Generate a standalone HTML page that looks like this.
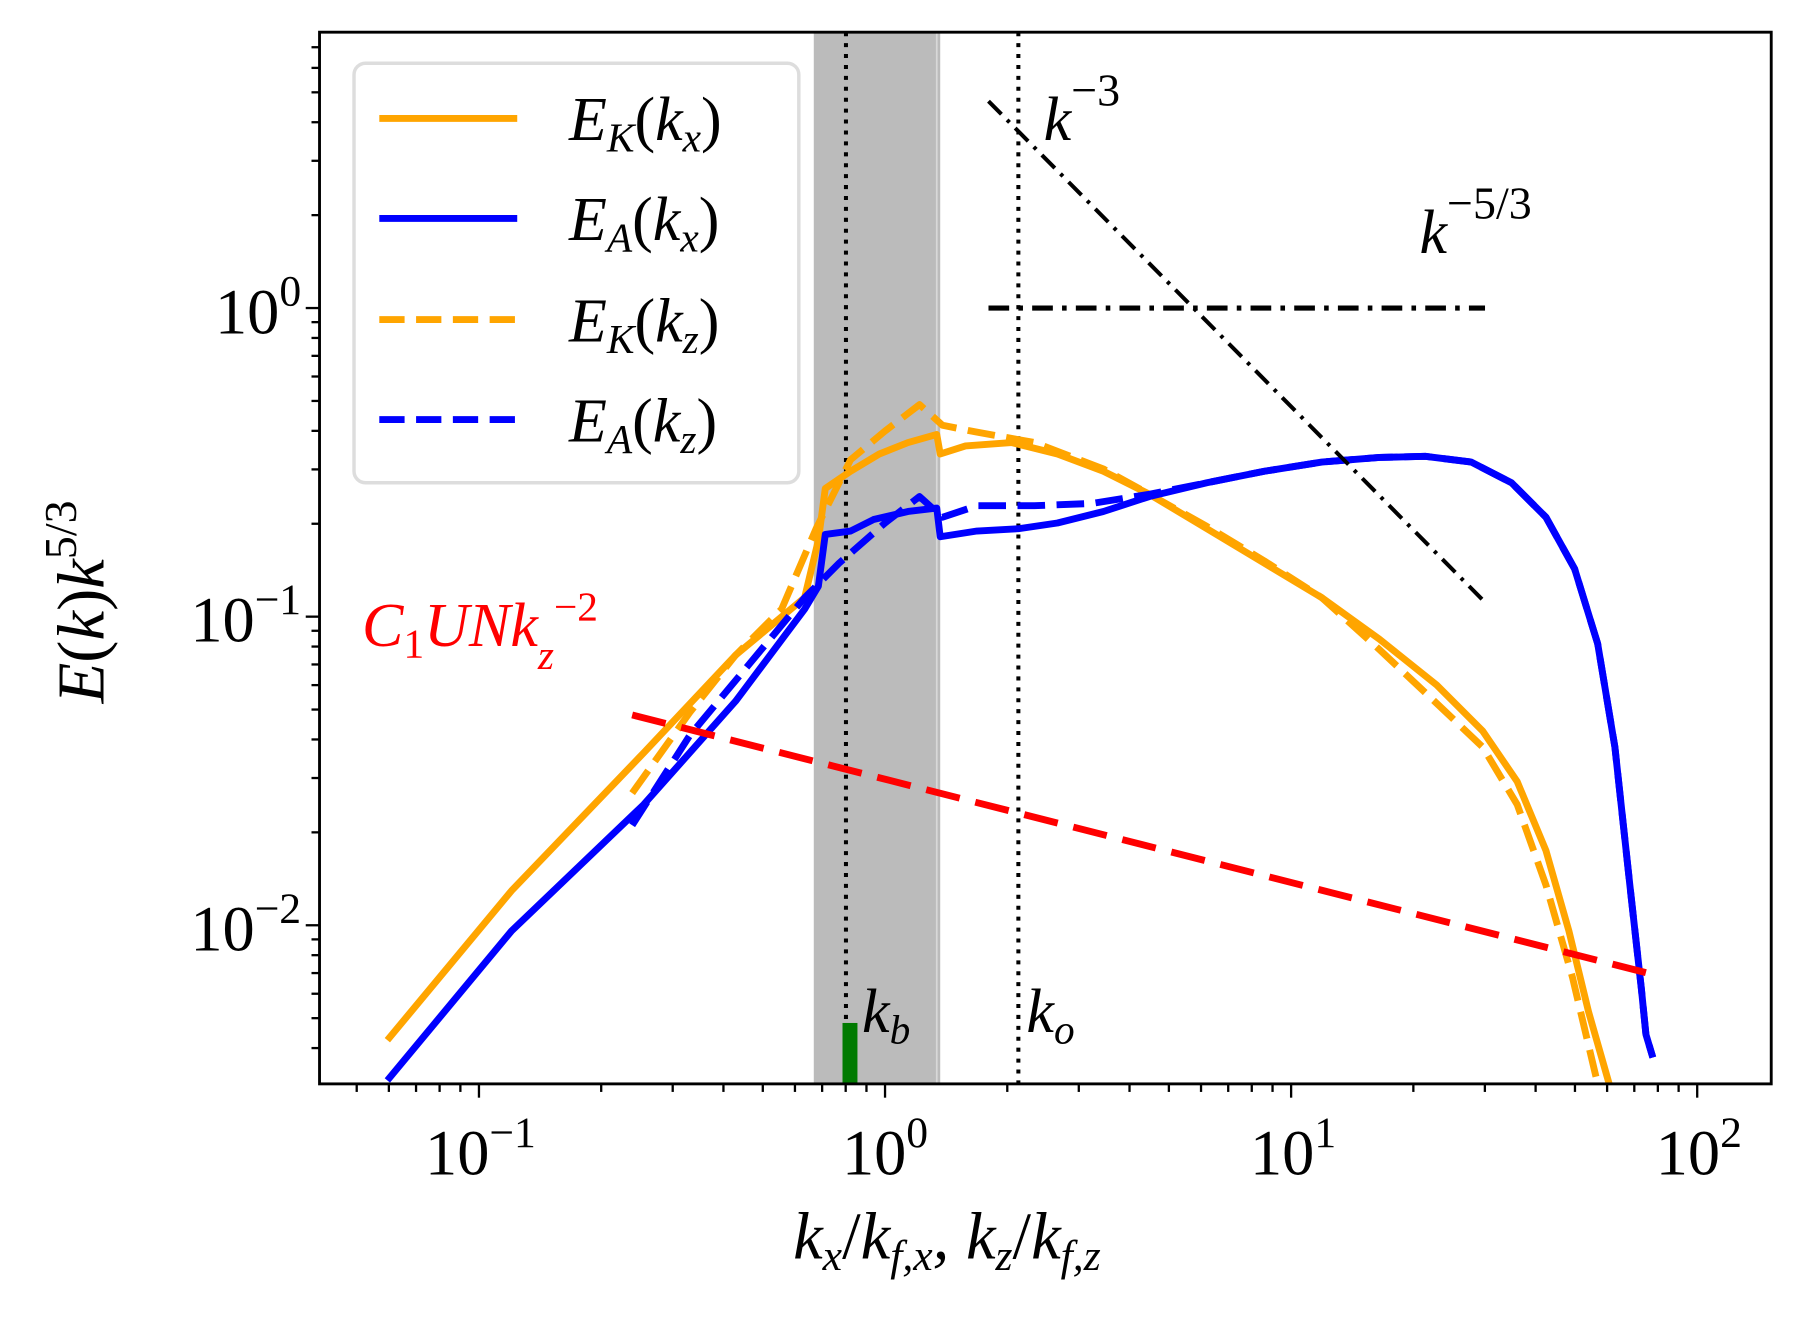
<!DOCTYPE html>
<html><head><meta charset="utf-8"><style>
html,body{margin:0;padding:0;background:#fff;width:1800px;height:1320px;overflow:hidden}
text{font-family:"Liberation Serif",serif;font-style:italic;fill:#000}
.up{font-style:normal}
</style></head><body>
<svg id="s" width="1800" height="1320" viewBox="0 0 1800 1320" xmlns="http://www.w3.org/2000/svg">
<g transform="scale(1.1494)" id="g">
<rect x="708" y="28" width="110" height="915" fill="#bbbbbb"/>
<line x1="815" y1="28" x2="815" y2="943" stroke="#d8d8d8" stroke-width="1.5"/>
<line x1="736" y1="28" x2="736" y2="943" stroke="#000" stroke-width="3.5" stroke-dasharray="3.5,6"/>
<line x1="886" y1="28" x2="886" y2="943" stroke="#000" stroke-width="3.5" stroke-dasharray="3.5,6"/>
<rect x="733" y="890" width="13" height="53" fill="#007a00"/>
<g fill="none" stroke-width="6" stroke-linejoin="round">
<polyline stroke="#ffa500" stroke-dasharray="24,10" points="550,690 600,620 640,570 680,530 710,460 740,400 770,375 800,352 820,370 850,376 900,385 960,408 1000,430 1050,458 1100,488 1150,520 1200,565 1250,612 1290,650 1320,700 1345,770 1368,850 1390,943"/>
<polyline stroke="#ffa500" points="337,905 445,775 560,655 640,570 700,520 712,470 718,425 740,410 765,395 790,385 815,378 818,395 840,388 880,385 920,395 960,410 1000,430 1050,460 1100,490 1150,520 1200,556 1250,596 1290,636 1320,680 1345,740 1365,810 1382,880 1400,943"/>
<polyline stroke="#0000ff" stroke-dasharray="24,10" points="550,718 600,640 650,580 700,520 730,490 770,455 800,432 820,450 850,440 900,440 950,438 1000,430 1050,420 1100,410 1150,402 1200,398 1240,397 1280,402 1315,420 1345,450 1370,495 1390,560 1405,650 1418,770 1428,860 1432,900 1438,920"/>
<polyline stroke="#0000ff" points="337,940 445,810 560,700 640,610 700,530 712,510 718,465 740,462 760,452 790,445 815,442 818,467 850,462 886,460 920,455 960,445 1000,432 1050,420 1100,410 1150,402 1200,398 1240,397 1280,402 1315,420 1345,450 1370,495 1390,560 1405,650 1418,770 1428,860 1432,900 1438,920"/>
<line x1="550" y1="622" x2="1435" y2="847" stroke="#ff0000" stroke-dasharray="30,14"/>
<line x1="860" y1="88" x2="1291" y2="523" stroke="#000" stroke-width="3.5" stroke-dasharray="16,7,3,7"/>
<line x1="860" y1="268" x2="1292" y2="268" stroke="#000" stroke-width="4.5" stroke-dasharray="18,8,4,8"/>
</g>
<rect x="308" y="55" width="387" height="365" rx="10" fill="#fff" fill-opacity="0.8" stroke="#dddddd" stroke-width="3"/>
<g stroke-width="6">
<line x1="330" y1="103" x2="450" y2="103" stroke="#ffa500"/>
<line x1="330" y1="190" x2="450" y2="190" stroke="#0000ff"/>
<line x1="330" y1="278" x2="450" y2="278" stroke="#ffa500" stroke-dasharray="22,10"/>
<line x1="330" y1="365" x2="450" y2="365" stroke="#0000ff" stroke-dasharray="22,10"/>
</g>
<g font-size="54">
<text x="495" y="122">E<tspan font-size="36" dy="10">K</tspan><tspan class="up" dy="-10">(</tspan>k<tspan font-size="36" dy="10">x</tspan><tspan class="up" dy="-10">)</tspan></text>
<text x="495" y="209">E<tspan font-size="36" dy="10">A</tspan><tspan class="up" dy="-10">(</tspan>k<tspan font-size="36" dy="10">x</tspan><tspan class="up" dy="-10">)</tspan></text>
<text x="495" y="297">E<tspan font-size="36" dy="10">K</tspan><tspan class="up" dy="-10">(</tspan>k<tspan font-size="36" dy="10">z</tspan><tspan class="up" dy="-10">)</tspan></text>
<text x="495" y="384">E<tspan font-size="36" dy="10">A</tspan><tspan class="up" dy="-10">(</tspan>k<tspan font-size="36" dy="10">z</tspan><tspan class="up" dy="-10">)</tspan></text>
<text x="908" y="122">k<tspan class="up" font-size="40" dy="-30">−3</tspan></text>
<text x="1235" y="220">k<tspan class="up" font-size="40" dy="-30">−5/3</tspan></text>
<text x="750" y="898">k<tspan font-size="36" dy="10">b</tspan></text>
<text x="893" y="898">k<tspan font-size="36" dy="10">o</tspan></text>
<text x="315" y="562" style="fill:#ff0000">C<tspan class="up" font-size="36" dy="10">1</tspan><tspan dy="-10">UNk</tspan><tspan font-size="36" dy="20">z</tspan><tspan class="up" font-size="36" dy="-42">−2</tspan></text>
<g font-size="56">
<text class="up" x="262" y="290" text-anchor="end">10<tspan font-size="38" dy="-24">0</tspan></text>
<text class="up" x="262" y="558" text-anchor="end">10<tspan font-size="38" dy="-24">−1</tspan></text>
<text class="up" x="262" y="827" text-anchor="end">10<tspan font-size="38" dy="-24">−2</tspan></text>
<text class="up" x="418" y="1022" text-anchor="middle">10<tspan font-size="38" dy="-24">−1</tspan></text>
<text class="up" x="770" y="1022" text-anchor="middle">10<tspan font-size="38" dy="-24">0</tspan></text>
<text class="up" x="1125" y="1022" text-anchor="middle">10<tspan font-size="38" dy="-24">1</tspan></text>
<text class="up" x="1478" y="1022" text-anchor="middle">10<tspan font-size="38" dy="-24">2</tspan></text>
</g>
<text x="690" y="1095" font-size="58">k<tspan font-size="38" dy="10">x</tspan><tspan class="up" dy="-10">/</tspan>k<tspan font-size="38" dy="10">f,x</tspan><tspan dy="-10">, k</tspan><tspan font-size="38" dy="10">z</tspan><tspan class="up" dy="-10">/</tspan>k<tspan font-size="38" dy="10">f,z</tspan></text>
<text transform="translate(90,612) rotate(-90)" font-size="58">E<tspan class="up">(</tspan>k<tspan class="up">)</tspan>k<tspan class="up" font-size="40" dy="-24">5/3</tspan></text>
</g>
<g id="ticks" stroke="#000" stroke-width="2"></g>
<rect x="278" y="28" width="1263" height="915" fill="none" stroke="#000" stroke-width="2.5"/>
</g>
</svg>
<script>
var t=document.getElementById('ticks'),h='';
function X(k){return 770+353.3*Math.log10(k);}
function Y(e){return 268-268.5*Math.log10(e);}
for(var d=-2;d<=2;d++)for(var m=1;m<10;m++){var x=X(m*Math.pow(10,d));if(x<278||x>1541)continue;var L=m==1?12:7;h+='<line x1="'+x+'" y1="943" x2="'+x+'" y2="'+(943+L)+'"/>';}
for(var d=-3;d<=1;d++)for(var m=1;m<10;m++){var y=Y(m*Math.pow(10,d));if(y<28||y>943)continue;var L=m==1?12:7;h+='<line x1="'+(278-L)+'" y1="'+y+'" x2="278" y2="'+y+'"/>';}
t.innerHTML=h;
</script>
</body></html>
